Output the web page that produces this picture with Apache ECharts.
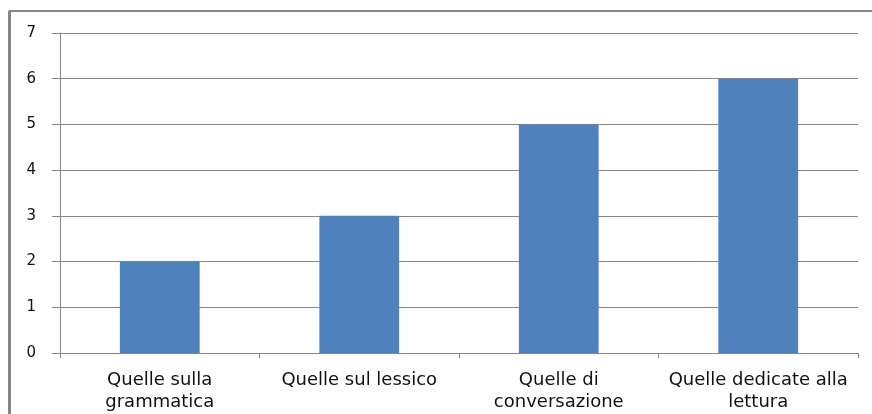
<!DOCTYPE html>
<html>
<head>
<meta charset="utf-8">
<script src="https://cdn.jsdelivr.net/npm/echarts@6/dist/echarts.min.js"></script>
<style>
  html, body { margin: 0; padding: 0; background: #fff; }
  #chart { width: 872px; height: 414px; }
</style>
</head>
<body>
<div id="chart"></div>
<script>
// categorie e valori
var categories = ['Quelle sulla\ngrammatica', 'Quelle sul lessico', 'Quelle di\nconversazione', 'Quelle dedicate alla\nlettura'];
var values = [2, 3, 5, 6];
var yTicks = [0, 1, 2, 3, 4, 5, 6, 7];

var lineColor = '#868686';
var chart = echarts.init(document.getElementById('chart'));
chart.setOption({
    backgroundColor: '#fff',
    animation: false,
    graphic: [
        // cornice esterna (bordo sinistro e superiore)
        { type: 'line', shape: { x1: 9, y1: 11, x2: 872, y2: 11 }, style: { stroke: lineColor, lineWidth: 2 } },
        { type: 'line', shape: { x1: 9.5, y1: 11, x2: 9.5, y2: 414 }, style: { stroke: lineColor, lineWidth: 3 } }
    ],
    grid: { left: 60, right: 14, top: 33, bottom: 61 },
    xAxis: {
        type: 'category',
        data: categories,
        axisLine: { lineStyle: { color: lineColor, width: 1 } },
        axisTick: { show: true, interval: 0, length: 5, lineStyle: { color: lineColor } },
        axisLabel: {
            interval: 0,
            hideOverlap: false,
            color: '#111',
            fontFamily: 'DejaVu Sans',
            fontSize: 18,
            lineHeight: 22,
            margin: 16
        }
    },
    yAxis: {
        type: 'value',
        min: yTicks[0],
        max: yTicks[yTicks.length - 1],
        interval: 1,
        axisLine: { show: true, lineStyle: { color: lineColor, width: 1 } },
        axisTick: { show: true, length: 8, lineStyle: { color: lineColor } },
        splitLine: { lineStyle: { color: lineColor, width: 1 } },
        axisLabel: {
            color: '#111',
            fontFamily: 'DejaVu Sans',
            fontSize: 15,
            margin: 24
        }
    },
    series: [{
        type: 'bar',
        data: values,
        barWidth: '40%',
        itemStyle: { color: '#4F81BD' }
    }]
});
</script>
</body>
</html>
